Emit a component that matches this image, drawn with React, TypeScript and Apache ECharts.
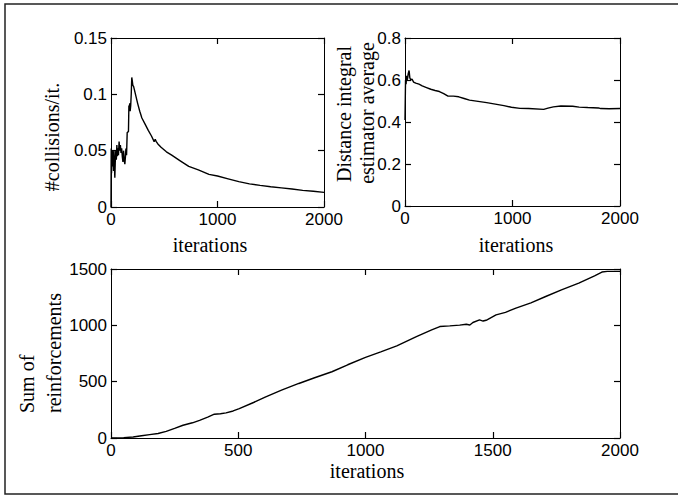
import React, { useEffect, useRef } from "react";
import * as echarts from "echarts";

// Top-left: collisions per iteration
const colIter = [0, 2, 5, 8, 11, 14, 17, 20, 24, 28, 32, 36, 40, 45, 50, 55, 60, 65, 70, 76, 82, 88, 94, 100, 106, 112, 118, 124, 130, 136, 140, 146, 152, 158, 164, 168, 172, 176, 180, 185, 190, 195, 200, 205, 212, 220, 235, 250, 270, 290, 320, 350, 380, 405, 415, 425, 440, 470, 520, 570, 650, 730, 820, 920, 1000, 1100, 1200, 1300, 1400, 1500, 1600, 1700, 1800, 1900, 2000];
const colVal = [0, 0.052, 0.03, 0.048, 0.036, 0.05, 0.04, 0.045, 0.032, 0.05, 0.038, 0.026, 0.04, 0.05, 0.042, 0.055, 0.045, 0.052, 0.046, 0.058, 0.05, 0.055, 0.048, 0.052, 0.045, 0.04, 0.05, 0.042, 0.038, 0.045, 0.052, 0.046, 0.066, 0.066, 0.067, 0.09, 0.088, 0.092, 0.085, 0.09, 0.1, 0.115, 0.112, 0.108, 0.107, 0.104, 0.098, 0.092, 0.085, 0.079, 0.0735, 0.068, 0.063, 0.058, 0.06, 0.058, 0.056, 0.053, 0.049, 0.046, 0.041, 0.036, 0.033, 0.029, 0.0275, 0.025, 0.0225, 0.0205, 0.0192, 0.018, 0.017, 0.016, 0.0148, 0.014, 0.013];

// Top-right: distance integral estimator average
const distIter = [0, 5, 10, 15, 20, 25, 30, 38, 45, 55, 65, 80, 100, 130, 160, 200, 240, 280, 320, 360, 400, 450, 500, 550, 600, 680, 760, 840, 920, 990, 1070, 1150, 1290, 1330, 1380, 1450, 1560, 1620, 1700, 1800, 1820, 1900, 2000];
const distVal = [0.41, 0.6, 0.58, 0.62, 0.6, 0.61, 0.63, 0.645, 0.61, 0.6, 0.605, 0.59, 0.585, 0.58, 0.572, 0.564, 0.556, 0.55, 0.545, 0.535, 0.523, 0.523, 0.52, 0.512, 0.504, 0.498, 0.492, 0.485, 0.478, 0.47, 0.465, 0.464, 0.46, 0.466, 0.472, 0.476, 0.475, 0.471, 0.469, 0.467, 0.464, 0.463, 0.464];

// Bottom: sum of reinforcements
const sumIter = [0, 50, 87, 120, 152, 185, 217, 250, 283, 320, 348, 380, 406, 430, 452, 480, 504, 560, 608, 670, 738, 800, 868, 930, 1000, 1060, 1123, 1200, 1260, 1292, 1331, 1370, 1396, 1410, 1422, 1448, 1462, 1474, 1513, 1550, 1591, 1650, 1708, 1770, 1838, 1900, 1929, 1950, 2000];
const sumVal = [0, 3, 9, 20, 30, 40, 59, 85, 113, 135, 157, 185, 211, 215, 223, 240, 261, 315, 365, 425, 484, 535, 588, 650, 716, 765, 817, 900, 960, 989, 995, 1002, 1010, 1003, 1025, 1048, 1038, 1045, 1093, 1115, 1152, 1200, 1256, 1315, 1375, 1440, 1473, 1479, 1479];

const xTicksTop = [0, 1000, 2000];
const xTicksBottom = [0, 500, 1000, 1500, 2000];

const SANS = "'Liberation Sans', Arial, sans-serif";
const SERIF = "'Liberation Serif', 'Times New Roman', serif";

export default function App() {
  const ref = useRef<HTMLDivElement>(null);
  useEffect(() => {
    if (!ref.current) return;
    const chart = echarts.init(ref.current, null, { renderer: "svg" });
    const pair = (xs: number[], ys: number[]) => xs.map((x, i) => [x, ys[i]]);
    const grids = [
      { left: 111, top: 38, width: 213, height: 169 },
      { left: 405, top: 38, width: 215, height: 168 },
      { left: 111, top: 269, width: 509, height: 169 },
    ];
    const xInt = [xTicksTop[1] - xTicksTop[0], xTicksTop[1] - xTicksTop[0], xTicksBottom[1] - xTicksBottom[0]];
    const yCfg = [
      { min: 0, max: 0.15, interval: 0.05 },
      { min: 0, max: 0.8, interval: 0.2 },
      { min: 0, max: 1500, interval: 500 },
    ];
    const fmt = (v: number) => String(Math.round(v * 1000) / 1000);
    const axisLine = () => ({ show: true, onZero: false, lineStyle: { color: "#000", width: 1 } });
    const tick = () => ({ show: true, inside: true, length: 6, lineStyle: { color: "#000", width: 1.2 } });
    const lbl = { color: "#000", fontFamily: SANS, fontSize: 17, formatter: fmt };
    const xAxis: any[] = [];
    const yAxis: any[] = [];
    grids.forEach((g, i) => {
      xAxis.push({ type: "value", gridIndex: i, z: 5, min: 0, max: 2000, interval: xInt[i], position: "bottom", splitLine: { show: false }, axisLine: axisLine(), axisTick: tick(), axisLabel: { ...lbl, margin: 4 } });
      xAxis.push({ type: "value", gridIndex: i, z: 5, min: 0, max: 2000, interval: xInt[i], position: "top", splitLine: { show: false }, axisLine: axisLine(), axisTick: tick(), axisLabel: { show: false } });
      yAxis.push({ type: "value", gridIndex: i, z: 5, ...yCfg[i], position: "left", splitLine: { show: false }, axisLine: axisLine(), axisTick: tick(), axisLabel: { ...lbl, margin: 4 } });
      yAxis.push({ type: "value", gridIndex: i, z: 5, ...yCfg[i], position: "right", splitLine: { show: false }, axisLine: axisLine(), axisTick: tick(), axisLabel: { show: false } });
    });
    const line = (xi: number, yi: number, data: number[][]) => ({
      type: "line", xAxisIndex: xi, yAxisIndex: yi, data, showSymbol: false, symbol: "none",
      lineStyle: { color: "#000", width: 1.4 }, silent: true,
    });
    const title = (text: string, x: number, y: number, rot: boolean, align = "center") => ({
      type: "text", x, y, rotation: rot ? Math.PI / 2 : 0,
      style: { text, fill: "#000", font: `20px ${SERIF}`, align, verticalAlign: "middle" },
    });
    chart.setOption({
      animation: false,
      backgroundColor: "#fff",
      grid: grids.map((g) => ({ ...g, containLabel: false })),
      xAxis,
      yAxis,
      series: [
        line(0, 0, pair(colIter, colVal)),
        line(2, 2, pair(distIter, distVal)),
        line(4, 4, pair(sumIter, sumVal)),
      ],
      graphic: [
        { type: "rect", shape: { x: 5, y: 4, width: 700, height: 490 }, style: { fill: "none", stroke: "#222", lineWidth: 1.5 } },
        title("#collisions/it.", 52, 137, true),
        title("Distance integral", 344, 114, true),
        title("estimator average", 367, 113, true),
        title("iterations", 210, 245, false),
        title("iterations", 516, 245, false),
        title("iterations", 367, 471, false),
        title("Sum of", 27, 413, true, "left"),
        title("reinforcements", 54, 413, true, "left"),
      ],
    });
    return () => chart.dispose();
  }, []);
  return <div ref={ref} style={{ position: "fixed", left: 0, top: 0, width: 678, height: 496 }} />;
}
